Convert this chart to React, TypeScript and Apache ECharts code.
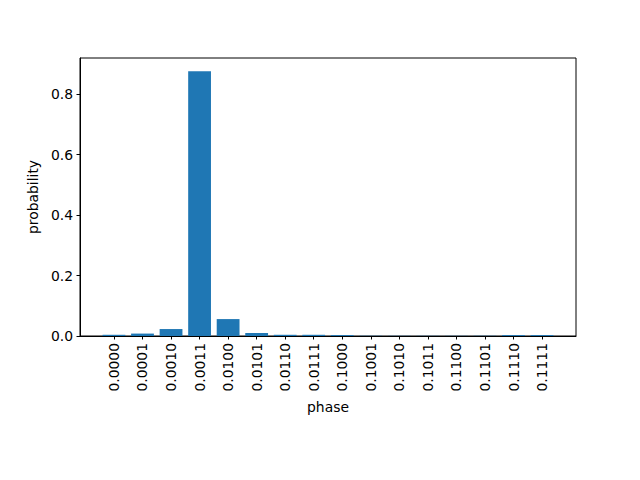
import React, { useEffect, useRef } from "react";
import * as echarts from "echarts";

const phases = [
  "0.0000", "0.0001", "0.0010", "0.0011", "0.0100", "0.0101", "0.0110", "0.0111",
  "0.1000", "0.1001", "0.1010", "0.1011", "0.1100", "0.1101", "0.1110", "0.1111",
];
const probabilities = [
  0.004, 0.008, 0.023, 0.876, 0.056, 0.01, 0.004, 0.004,
  0.003, 0.0008, 0.0006, 0.0006, 0.0006, 0.0008, 0.003, 0.003,
];
const yTicks = [0, 0.2, 0.4, 0.6, 0.8];

export default function App() {
  const ref = useRef<HTMLDivElement>(null);
  useEffect(() => {
    if (!ref.current) return;
    const chart = echarts.init(ref.current, null, { renderer: "svg" });
    const idx = phases.map((_, i) => i);
    const font = "DejaVu Sans";
    chart.setOption({
      animation: false,
      backgroundColor: "#fff",
      grid: {
        left: 80,
        right: 64,
        top: 58,
        bottom: 144,
        show: true,
        borderColor: "#000",
        borderWidth: 1,
        backgroundColor: "transparent",
      },
      xAxis: {
        type: "value",
        min: -1.19,
        max: 16.19,
        name: "phase",
        nameLocation: "middle",
        nameGap: 64,
        nameTextStyle: { fontFamily: font, fontSize: 13.9, color: "#000" },
        axisLine: { show: true, onZero: false, lineStyle: { color: "#000", width: 1 } },
        axisTick: {
          show: true,
          inside: false,
          length: 3.5,
          lineStyle: { color: "#000" },
          customValues: idx,
        },
        axisLabel: {
          customValues: idx,
          rotate: 90,
          margin: 7,
          fontFamily: font,
          fontSize: 13.9,
          color: "#000",
          formatter: (v: number) => phases[Math.round(v)] ?? "",
        },
        splitLine: { show: false },
      },
      yAxis: {
        type: "value",
        min: 0,
        max: 0.9198,
        name: "probability",
        nameLocation: "middle",
        nameGap: 38,
        nameTextStyle: { fontFamily: font, fontSize: 13.9, color: "#000" },
        axisLine: { show: true, onZero: false, lineStyle: { color: "#000", width: 1 } },
        axisTick: {
          show: true,
          inside: false,
          length: 3.5,
          lineStyle: { color: "#000" },
          customValues: yTicks,
        },
        axisLabel: {
          customValues: yTicks,
          margin: 7,
          fontFamily: font,
          fontSize: 13.9,
          color: "#000",
          formatter: (v: number) => v.toFixed(1),
        },
        splitLine: { show: false },
      },
      series: [
        {
          type: "bar",
          data: probabilities.map((p, i) => [i, p]),
          barWidth: 22.8,
          itemStyle: { color: "#1f77b4" },
        },
      ],
    });
    return () => chart.dispose();
  }, []);
  return <div ref={ref} style={{ width: 640, height: 480, margin: -8 }} />;
}
